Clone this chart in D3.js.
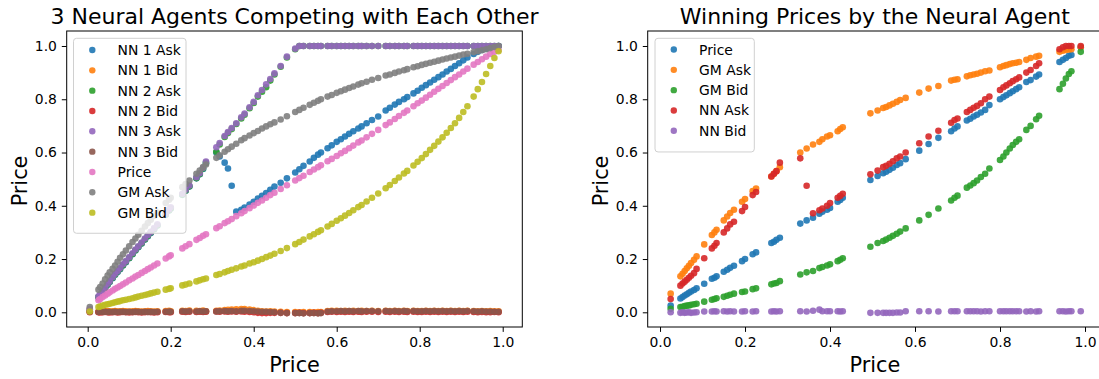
<!DOCTYPE html>
<html><head><meta charset="utf-8">
<script src="https://cdn.jsdelivr.net/npm/d3@7"></script>
<style>
body{margin:0;background:#fff;}
svg{display:block;font-family:"DejaVu Sans",sans-serif;}
</style></head><body>
<svg id="c" width="1099" height="379"></svg>
<script>
// ---------- Left chart data ----------
const leftX = [0.005,0.026,0.03,0.036,0.042,0.048,0.053,
 0.06,0.066,0.072,0.078,0.085,0.092,0.1,0.108,0.115,0.122,
 0.13,0.138,0.145,0.152,0.16,0.168,0.188,0.196,0.2,0.228,
 0.236,0.245,0.262,0.27,0.278,0.285,0.31,0.318,0.33,0.338,
 0.347,0.358,0.37,0.378,0.39,0.4,0.41,0.42,0.43,0.44,
 0.45,0.465,0.48,0.5,0.51,0.52,0.535,0.545,0.555,0.562,
 0.578,0.588,0.6,0.61,0.62,0.63,0.64,0.652,0.66,0.672,
 0.685,0.7,0.718,0.728,0.74,0.75,0.762,0.77,0.785,0.795,
 0.805,0.815,0.825,0.835,0.845,0.855,0.865,0.875,0.885,0.895,
 0.905,0.915,0.93,0.94,0.95,0.96,0.97,0.98,0.99];

const nn1Ask = [0.009,0.056,0.064,0.076,0.09,0.103,0.114,
 0.128,0.141,0.151,0.162,0.176,0.188,0.203,0.218,0.232,0.244,
 0.258,0.273,0.286,0.298,0.312,0.326,0.366,0.382,0.39,0.441,
 0.456,0.472,0.503,0.518,0.538,0.56,0.6,0.585,0.562,0.54,
 0.475,0.378,0.385,0.393,0.405,0.415,0.427,0.437,0.448,0.46,
 0.472,0.486,0.503,0.525,0.537,0.55,0.566,0.58,0.592,0.6,
 0.616,0.627,0.64,0.65,0.66,0.67,0.68,0.69,0.698,0.71,
 0.722,0.735,0.758,0.768,0.78,0.79,0.8,0.808,0.822,0.832,
 0.843,0.853,0.863,0.873,0.883,0.893,0.904,0.914,0.925,0.935,
 0.946,0.957,0.97,0.978,0.985,0.99,0.995,0.998,1.0];

const nn1Bid = [0.004,0.003,0.005,0.004,0.004,0.005,0.003,
 0.004,0.005,0.003,0.004,0.005,0.004,0.003,0.004,0.005,0.004,
 0.003,0.004,0.005,0.004,0.003,0.004,0.005,0.006,0.004,0.006,
 0.005,0.007,0.006,0.005,0.007,0.004,0.006,0.007,0.008,0.009,
 0.01,0.011,0.012,0.012,0.01,0.008,0.006,0.004,0.003,0.004,
 0.003,0.002,0.001,0.001,0.0,0.001,0.001,0.0,0.001,0.001,
 0.005,0.006,0.006,0.005,0.006,0.005,0.006,0.005,0.006,0.005,
 0.006,0.005,0.006,0.005,0.006,0.005,0.006,0.005,0.006,0.005,
 0.005,0.006,0.005,0.006,0.005,0.006,0.005,0.006,0.005,0.006,
 0.005,0.006,0.005,0.004,0.005,0.004,0.005,0.004,0.004];

const nn2Ask = [0.01,0.057,0.066,0.078,0.091,0.104,0.116,
 0.13,0.142,0.153,0.164,0.177,0.19,0.204,0.219,0.233,0.246,
 0.259,0.274,0.287,0.3,0.313,0.327,0.367,0.383,0.391,0.442,
 0.457,0.473,0.504,0.519,0.54,0.562,0.603,0.63,0.658,0.673,
 0.688,0.707,0.728,0.742,0.766,0.786,0.81,0.828,0.845,0.87,
 0.893,0.922,0.957,0.988,1,1,1,1,1,1,
 1,1,1,1,1,1,1,1,1,1,
 1,1,1,1,1,1,1,1,1,1,
 1,1,1,1,1,1,1,1,1,1,
 1,1,1,1,1,1,1,1,1];

const nn2Bid = [0.0,0.0,-0.001,0.0,0.001,0.0,-0.001,
 0.0,0.001,-0.001,0.0,0.001,0.0,-0.001,0.0,0.001,0.0,
 -0.001,0.0,0.001,0.0,-0.001,0.0,0.001,0.0,0.0,0.002,
 0.001,0.002,0.001,0.002,0.001,0.002,0.003,0.002,0.003,0.002,
 0.003,0.002,0.003,0.002,0.001,0.0,-0.002,-0.003,-0.003,-0.002,
 -0.002,-0.002,-0.003,-0.003,-0.002,-0.003,-0.003,-0.002,-0.003,-0.002,
 0.001,0.002,0.001,0.002,0.001,0.002,0.001,0.002,0.001,0.002,
 0.002,0.001,0.002,0.001,0.002,0.001,0.002,0.001,0.002,0.001,
 0.001,0.002,0.001,0.002,0.001,0.002,0.001,0.002,0.001,0.002,
 0.001,0.002,0.001,0.0,0.001,0.0,0.0,0.001,0.0];

const nn3Ask = [0.012,0.06,0.068,0.08,0.094,0.107,0.118,
 0.132,0.145,0.155,0.166,0.18,0.192,0.207,0.222,0.236,0.248,
 0.262,0.277,0.29,0.302,0.316,0.33,0.37,0.386,0.394,0.445,
 0.46,0.476,0.507,0.522,0.543,0.566,0.62,0.636,0.662,0.677,
 0.692,0.71,0.732,0.746,0.77,0.79,0.815,0.835,0.856,0.876,
 0.897,0.925,0.96,0.99,1,1,1,1,1,1,
 1,1,1,1,1,1,1,1,1,1,
 1,1,1,1,1,1,1,1,1,1,
 1,1,1,1,1,1,1,1,1,1,
 1,1,1,1,1,1,1,1,1];

const nn3Bid = [0.002,0.001,0.002,0.001,0.002,0.001,0.002,
 0.001,0.002,0.001,0.002,0.002,0.001,0.002,0.001,0.002,0.002,
 0.001,0.002,0.001,0.002,0.001,0.002,0.002,0.003,0.002,0.004,
 0.003,0.004,0.003,0.004,0.003,0.004,0.003,0.004,0.005,0.004,
 0.005,0.004,0.006,0.006,0.005,0.004,0.003,0.002,0.002,0.001,
 0.0,-0.002,-0.003,-0.003,-0.003,-0.004,-0.003,-0.003,-0.004,-0.003,
 0.003,0.004,0.004,0.005,0.004,0.005,0.004,0.005,0.004,0.005,
 0.005,0.004,0.005,0.004,0.005,0.004,0.005,0.004,0.005,0.004,
 0.004,0.005,0.004,0.005,0.004,0.005,0.004,0.005,0.004,0.005,
 0.004,0.005,0.004,0.003,0.004,0.003,0.003,0.002,0.002];

const leftPrice = [0.012,0.045,0.05,0.057,0.063,0.07,0.075,
 0.082,0.088,0.093,0.099,0.105,0.112,0.12,0.127,0.134,0.14,
 0.148,0.155,0.162,0.168,0.176,0.183,0.202,0.21,0.214,0.24,
 0.248,0.256,0.272,0.279,0.287,0.293,0.316,0.323,0.335,0.342,
 0.35,0.361,0.372,0.38,0.391,0.401,0.411,0.42,0.43,0.44,
 0.449,0.463,0.477,0.495,0.504,0.513,0.527,0.536,0.545,0.552,
 0.567,0.576,0.587,0.597,0.606,0.616,0.626,0.638,0.645,0.657,
 0.67,0.685,0.703,0.713,0.726,0.737,0.749,0.758,0.774,0.785,
 0.795,0.806,0.817,0.828,0.839,0.85,0.861,0.872,0.883,0.893,
 0.904,0.915,0.93,0.94,0.95,0.96,0.97,0.978,0.985];

const leftGmAsk = [0.02,0.085,0.095,0.108,0.124,0.138,0.15,
 0.163,0.176,0.19,0.205,0.218,0.232,0.248,0.264,0.277,0.291,
 0.306,0.322,0.335,0.348,0.362,0.375,0.41,0.423,0.43,0.47,
 0.482,0.495,0.52,0.532,0.545,0.555,0.58,0.59,0.603,0.612,
 0.622,0.633,0.646,0.654,0.664,0.673,0.681,0.69,0.698,0.706,
 0.713,0.724,0.736,0.752,0.76,0.768,0.779,0.787,0.794,0.8,
 0.81,0.816,0.824,0.83,0.836,0.842,0.848,0.855,0.86,0.866,
 0.873,0.88,0.889,0.893,0.899,0.904,0.909,0.913,0.92,0.924,
 0.929,0.933,0.937,0.941,0.945,0.949,0.953,0.957,0.96,0.964,
 0.968,0.971,0.977,0.98,0.984,0.988,0.992,0.996,1.0];

const leftGmBid = [0.003,0.02,0.022,0.025,0.028,0.03,0.032,
 0.035,0.038,0.04,0.042,0.045,0.047,0.05,0.053,0.056,0.059,
 0.062,0.065,0.068,0.071,0.074,0.077,0.085,0.088,0.09,0.101,
 0.104,0.108,0.116,0.12,0.124,0.127,0.14,0.144,0.15,0.155,
 0.16,0.165,0.172,0.176,0.183,0.188,0.194,0.2,0.207,0.213,
 0.22,0.23,0.241,0.256,0.264,0.273,0.285,0.293,0.302,0.308,
 0.322,0.332,0.344,0.353,0.363,0.373,0.383,0.395,0.403,0.416,
 0.43,0.446,0.466,0.478,0.493,0.506,0.521,0.531,0.551,0.565,
 0.579,0.594,0.61,0.625,0.641,0.657,0.674,0.692,0.71,0.73,
 0.752,0.774,0.81,0.838,0.865,0.895,0.925,0.955,0.98];

const leftNames = ["NN 1 Ask","NN 1 Bid","NN 2 Ask","NN 2 Bid","NN 3 Ask","NN 3 Bid","Price","GM Ask","GM Bid"];
const leftColors = ["#1f77b4","#ff7f0e","#2ca02c","#d62728","#9467bd","#8c564b","#e377c2","#7f7f7f","#bcbd22"];
const leftSeries = [nn1Ask,nn1Bid,nn2Ask,nn2Bid,nn3Ask,nn3Bid,leftPrice,leftGmAsk,leftGmBid];

// ---------- Right chart data ----------
const rightX = [0.025,0.048,0.053,0.058,0.063,0.068,0.073,0.08,0.086,0.104,
 0.122,0.128,0.133,0.15,0.158,0.165,0.174,0.193,0.2,0.218,
 0.226,0.262,0.268,0.274,0.282,0.33,0.345,0.36,0.375,0.382,
 0.393,0.4,0.418,0.424,0.43,0.495,0.512,0.525,0.532,0.54,
 0.548,0.557,0.565,0.578,0.61,0.632,0.655,0.685,0.693,0.7,
 0.722,0.73,0.738,0.746,0.755,0.765,0.775,0.8,0.808,0.815,
 0.823,0.83,0.838,0.845,0.862,0.872,0.885,0.892,0.94,0.948,
 0.955,0.962,0.968,0.99];

const rightPrice = [0.025,0.052,0.057,0.063,0.068,0.073,0.078,0.084,0.09,0.107,
 0.126,0.13,0.135,0.152,0.16,0.167,0.175,0.192,0.2,0.218,
 0.225,0.26,0.265,0.272,0.28,0.333,0.345,0.355,0.37,0.378,
 0.385,0.392,0.415,0.422,0.43,0.497,0.512,0.522,0.528,0.535,
 0.543,0.553,0.56,0.575,0.607,0.632,0.655,0.68,0.69,0.698,
 0.72,0.727,0.735,0.742,0.75,0.76,0.778,0.8,0.808,0.815,
 0.823,0.83,0.838,0.845,0.865,0.872,0.885,0.893,0.94,0.948,
 0.955,0.963,0.966,0.995];

const rightGmAsk = [0.07,0.135,0.145,0.155,0.165,0.175,0.185,0.197,0.21,0.255,
 0.29,0.3,0.31,0.345,0.36,0.373,0.385,0.415,0.425,0.455,
 0.465,0.51,0.52,0.53,0.545,0.6,0.615,0.63,0.64,0.65,
 0.66,0.665,0.68,0.688,0.695,0.747,0.758,0.767,0.771,0.777,
 0.783,0.79,0.797,0.805,0.825,0.84,0.85,0.87,0.873,0.875,
 0.886,0.89,0.893,0.896,0.9,0.905,0.908,0.92,0.925,0.928,
 0.932,0.935,0.937,0.94,0.948,0.955,0.96,0.963,0.978,0.982,
 0.985,0.987,0.988,0.995];

const rightGmBid = [0.013,0.02,0.021,0.023,0.025,0.026,0.028,0.03,0.032,0.04,
 0.047,0.05,0.053,0.058,0.062,0.066,0.07,0.076,0.078,0.087,
 0.09,0.105,0.108,0.11,0.117,0.142,0.15,0.155,0.166,0.17,
 0.176,0.18,0.192,0.197,0.203,0.246,0.26,0.268,0.273,0.28,
 0.287,0.295,0.303,0.315,0.345,0.366,0.39,0.42,0.43,0.438,
 0.468,0.476,0.485,0.495,0.508,0.52,0.54,0.572,0.585,0.6,
 0.615,0.628,0.64,0.65,0.685,0.7,0.725,0.738,0.838,0.858,
 0.878,0.895,0.905,0.978];

const rightNnAsk = [0.05,0.1,0.108,0.115,0.122,0.13,0.137,0.147,0.163,0.203,
 0.24,0.25,0.26,0.3,0.315,0.33,0.34,0.38,0.395,0.44,
 0.452,0.51,0.52,0.53,0.562,0.578,0.475,0.372,0.383,0.39,
 0.4,0.41,0.43,0.437,0.445,0.518,0.532,0.545,0.55,0.558,
 0.567,0.578,0.585,0.6,0.635,0.66,0.682,0.712,0.722,0.728,
 0.752,0.76,0.768,0.775,0.785,0.8,0.81,0.835,0.845,0.852,
 0.86,0.868,0.875,0.882,0.9,0.91,0.925,0.935,0.988,0.995,
 1.0,1.0,1.0,1.0];

const rightNnBid = [0.0,-0.002,0.0,-0.002,-0.001,0.0,-0.002,-0.001,0.0,0.003,
 0.003,0.004,0.003,0.004,0.003,0.004,0.003,0.003,0.004,0.003,
 0.004,0.003,0.004,0.003,0.004,0.004,0.003,0.006,0.01,0.004,
 0.004,0.004,0.004,0.003,0.004,-0.002,-0.002,-0.002,-0.002,-0.002,
 -0.002,-0.001,-0.001,0.004,0.004,0.004,0.003,0.004,0.004,0.004,
 0.004,0.004,0.004,0.004,0.003,0.004,0.004,0.004,0.004,0.004,
 0.004,0.004,0.004,0.004,0.003,0.004,0.003,0.004,0.004,0.004,
 0.003,0.004,0.004,0.004];

const rightNames = ["Price","GM Ask","GM Bid","NN Ask","NN Bid"];
const rightColors = ["#1f77b4","#ff7f0e","#2ca02c","#d62728","#9467bd"];
const rightSeries = [rightPrice,rightGmAsk,rightGmBid,rightNnAsk,rightNnBid];

const tickVals = [0,0.2,0.4,0.6,0.8,1.0];

// ---------- Drawing ----------
const svg = d3.select("#c");
const fmt = d3.format(".1f");
const TOP = 31, BOTTOM = 327;

function panel(opt){
  const x = d3.scaleLinear().domain(opt.xdom).range([opt.left, opt.right]);
  const y = d3.scaleLinear().domain([-0.0552, 1.0563]).range([BOTTOM, TOP]);
  const g = svg.append("g");
  const clipId = "clip" + opt.id;
  svg.append("clipPath").attr("id", clipId).append("rect")
    .attr("x", opt.left).attr("y", TOP).attr("width", opt.right - opt.left).attr("height", BOTTOM - TOP);
  const pts = g.append("g").attr("clip-path", `url(#${clipId})`);
  opt.series.forEach((ys, si) => {
    pts.append("g").selectAll("circle")
      .data(opt.xs.map((v, i) => [v, ys[i]]))
      .join("circle")
      .attr("cx", d => x(d[0])).attr("cy", d => y(d[1]))
      .attr("r", 3.3).attr("fill", opt.colors[si]).attr("fill-opacity", 0.9);
  });
  // frame
  g.append("rect").attr("x", opt.left).attr("y", TOP)
    .attr("width", opt.right - opt.left).attr("height", BOTTOM - TOP)
    .attr("fill", "none").attr("stroke", "#000").attr("stroke-width", 1);
  const xa = g.append("g").attr("transform", `translate(0,${BOTTOM})`)
    .call(d3.axisBottom(x).tickValues(tickVals).tickFormat(fmt).tickSize(4.9).tickPadding(4.9));
  const ya = g.append("g").attr("transform", `translate(${opt.left},0)`)
    .call(d3.axisLeft(y).tickValues(tickVals).tickFormat(fmt).tickSize(4.9).tickPadding(4.9));
  [xa, ya].forEach(a => {
    a.select(".domain").remove();
    a.selectAll("text").attr("font-size", "13.9px").attr("fill", "#000")
      .attr("font-family", "DejaVu Sans");
    a.selectAll("line").attr("stroke", "#000").attr("stroke-width", 1);
  });
  const cx = (opt.left + opt.right) / 2;
  g.append("text").attr("x", cx).attr("y", 23.5).attr("text-anchor", "middle")
    .attr("font-size", "22px").attr("fill", "#000").text(opt.title);
  g.append("text").attr("x", cx).attr("y", 371.5).attr("text-anchor", "middle")
    .attr("font-size", "20.8px").attr("fill", "#000").text("Price");
  g.append("text").attr("transform", `translate(${opt.left - 40.2},181) rotate(-90)`)
    .attr("text-anchor", "middle").attr("font-size", "20.8px").attr("fill", "#000").text("Price");
  // legend
  const lg = g.append("g");
  const n = opt.names.length;
  lg.append("rect").attr("x", opt.lx).attr("y", 38.3).attr("width", opt.lw)
    .attr("height", 14 + n * 20.33 - 2).attr("rx", 3)
    .attr("fill", "#fff").attr("fill-opacity", 0.8).attr("stroke", "#d0d0d0").attr("stroke-width", 1);
  opt.names.forEach((nm, i) => {
    const cy = opt.ly0 + i * 20.33;
    lg.append("circle").attr("cx", opt.lx + 18.8).attr("cy", cy).attr("r", 3.2)
      .attr("fill", opt.colors[i]).attr("fill-opacity", 0.9);
    lg.append("text").attr("x", opt.lx + 44).attr("y", cy + 5)
      .attr("font-size", "13.9px").attr("fill", "#000").text(nm);
  });
}

panel({id: "L", left: 66.7, right: 522.3, xdom: [-0.0506, 1.0472], xs: leftX,
  series: leftSeries, colors: leftColors, names: leftNames,
  title: "3 Neural Agents Competing with Each Other", lx: 73.5, lw: 112.5, ly0: 50});
panel({id: "R", left: 647.7, right: 1102, xdom: [-0.029, 1.04], xs: rightX,
  series: rightSeries, colors: rightColors, names: rightNames,
  title: "Winning Prices by the Neural Agent", lx: 655, lw: 99.3, ly0: 49.5});
</script>
</body></html>
